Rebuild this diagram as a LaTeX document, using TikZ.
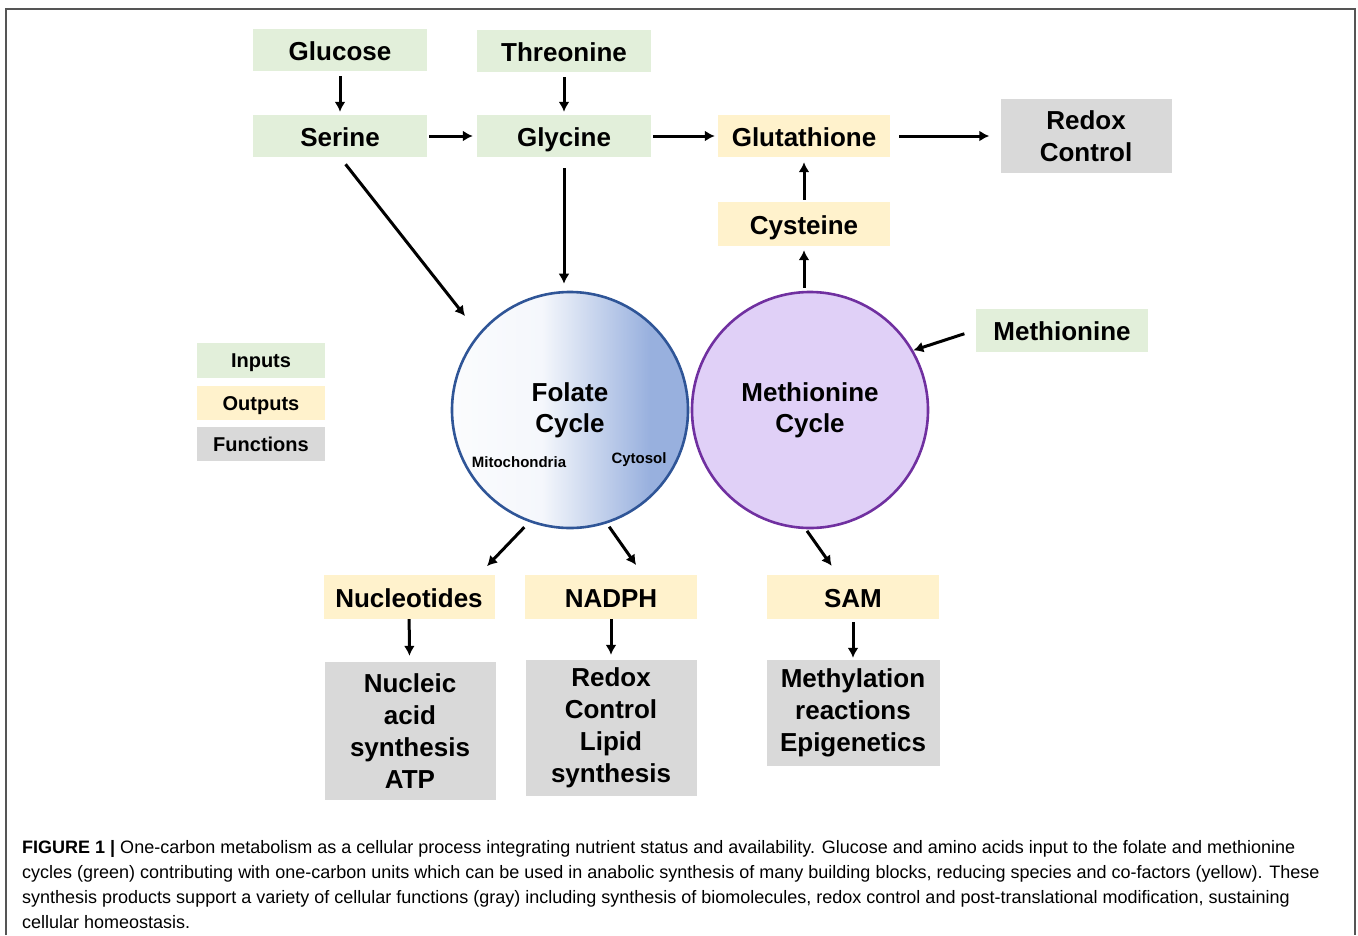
\documentclass[tikz,border=0pt]{standalone}
\usepackage{fontspec}
\setmainfont{Liberation Sans}
\usepackage{xcolor}
\usetikzlibrary{arrows.meta}

\definecolor{inputgreen}{HTML}{E2EFDA}
\definecolor{outputyellow}{HTML}{FFF2CC}
\definecolor{functiongray}{HTML}{D9D9D9}
\definecolor{folateblue}{HTML}{2F5597}
\definecolor{folatefill}{HTML}{98B0DE}
\definecolor{methpurple}{HTML}{7030A0}
\definecolor{methfill}{HTML}{E0D0F7}
\definecolor{framegray}{HTML}{555555}

\pgfdeclarehorizontalshading{folateshade}{100bp}{color(0bp)=(white); color(25bp)=(white!96!folatefill); color(44bp)=(white!90!folatefill); color(67bp)=(folatefill); color(100bp)=(folatefill)}

\begin{document}
\begin{tikzpicture}[
    x=1pt, y=-1pt,
    box/.style={
        inner sep=0pt,
        align=center,
        font=\fontsize{26}{32}\selectfont\bfseries,
        minimum width=174pt,
        minimum height=42pt
    },
    oneline/.style={text height=20pt, text depth=0pt},
    inbox/.style={box, oneline, fill=inputgreen},
    outbox/.style={box, oneline, fill=outputyellow, minimum width=172pt, minimum height=44pt},
    funcbox/.style={box, fill=functiongray, minimum width=171pt},
    legendbox/.style={
        box,
        font=\fontsize{20}{24}\selectfont\bfseries,
        text height=15pt, text depth=0pt,
        minimum width=128pt,
        minimum height=34pt
    },
    cyclenode/.style={
        circle,
        minimum size=236pt,
        line width=2.6pt,
        align=center,
        font=\fontsize{26}{31}\selectfont\bfseries
    },
    smalllabel/.style={font=\fontsize{15}{18}\selectfont\bfseries, inner sep=0pt},
    arrow/.style={
        -{Latex[length=10pt,width=11pt]},
        line width=3pt
    }
]
\useasboundingbox (0,0) rectangle (1358,935);

% frame
\draw[framegray, line width=1.4pt] (6,935) -- (6,9) -- (1355,9) -- (1355,935);

% inputs at the top
\node[inbox] (glucose) at (340,50) {Glucose};
\node[inbox] (threonine) at (564,51) {Threonine};
\node[inbox] (serine) at (340,136) {Serine};
\node[inbox] (glycine) at (564,136) {Glycine};

\node[outbox, minimum height=42pt] (glutathione) at (804,136) {Glutathione};
\node[funcbox, minimum height=74pt] (redoxtop) at (1086,136) {Redox\\Control};
\node[outbox] (cysteine) at (804,224) {Cysteine};
\node[inbox, minimum width=172pt, minimum height=43pt] (methionine) at (1062,330) {Methionine};

% legend
\node[legendbox, fill=inputgreen, minimum height=35pt] (leginputs) at (261,360) {Inputs};
\node[legendbox, fill=outputyellow] (legoutputs) at (261,403) {Outputs};
\node[legendbox, fill=functiongray] (legfunctions) at (261,444) {Functions};

% the two cycles
\node[cyclenode, draw=folateblue, shading=folateshade] (folate) at (570,410) {Folate\\Cycle};
\node[cyclenode, draw=methpurple, fill=methfill] (methcycle) at (810,410) {Methionine\\Cycle};
\node[smalllabel] (mito) at (519,462) {Mitochondria};
\node[smalllabel] (cytosol) at (639,460) {Cytosol};

% outputs and functions below
\node[outbox, minimum width=171pt] (nucleotides) at (409,597) {Nucleotides};
\node[outbox] (nadph) at (611,597) {NADPH};
\node[outbox] (sam) at (853,597) {SAM};
\node[funcbox, minimum height=138pt] (nucleic) at (410,731) {Nucleic\\acid\\synthesis\\ATP};
\node[funcbox, minimum height=136pt] (lipid) at (611,728) {Redox\\Control\\Lipid\\synthesis};
\node[funcbox, minimum width=173pt, minimum height=106pt] (methylation) at (853,713) {Methylation\\reactions\\Epigenetics};

% arrows
\draw[arrow, shorten <=5pt, shorten >=3pt] (glucose) -- (serine);
\draw[arrow, shorten <=5pt, shorten >=3pt] (threonine) -- (glycine);
\draw[arrow, shorten <=2pt, shorten >=4pt] (serine) -- (glycine);
\draw[arrow, shorten <=2pt, shorten >=3pt] (glycine) -- (glutathione);
\draw[arrow, shorten <=9pt, shorten >=11pt] (glutathione) -- (redoxtop);
\draw[arrow, shorten <=2pt, shorten >=5pt] (cysteine) -- (glutathione);
\draw[arrow, shorten <=3pt, shorten >=4pt] (cysteine.south |- methcycle.north) -- (cysteine);
\draw[arrow, shorten <=12pt] (methionine.west) -- (methcycle.30);
\draw[arrow, shorten <=9pt, shorten >=22pt] (serine.south) -- (folate.140);
\draw[arrow, shorten <=11pt, shorten >=7pt] (glycine.south) -- (glycine.south |- folate.north);
\draw[arrow, shorten <=7pt, shorten >=12pt] (folate.250) -- ([xshift=-16pt]nucleotides.north east);
\draw[arrow, shorten <=4pt, shorten >=12pt] (folate.288) -- ([xshift=32pt]nadph.north);
\draw[arrow, shorten <=2pt, shorten >=11pt] (methcycle.268) -- ([xshift=-15pt]sam.north);
\draw[arrow, shorten >=6pt] (nucleotides) -- (nucleic);
\draw[arrow, shorten >=5pt] (nadph) -- (lipid);
\draw[arrow, shorten <=3pt, shorten >=2pt] (sam) -- (methylation);

% caption
\node[anchor=north west, inner sep=0pt, align=left, font=\fontsize{18}{25}\selectfont] (caption) at (22,840)
{\textbf{FIGURE 1 |} One-carbon metabolism as a cellular process integrating nutrient status and availability. Glucose and amino acids input to the folate and methionine\\
cycles (green) contributing with one-carbon units which can be used in anabolic synthesis of many building blocks, reducing species and co-factors (yellow). These\\
synthesis products support a variety of cellular functions (gray) including synthesis of biomolecules, redox control and post-translational modification, sustaining\\
cellular homeostasis.};

\end{tikzpicture}
\end{document}
